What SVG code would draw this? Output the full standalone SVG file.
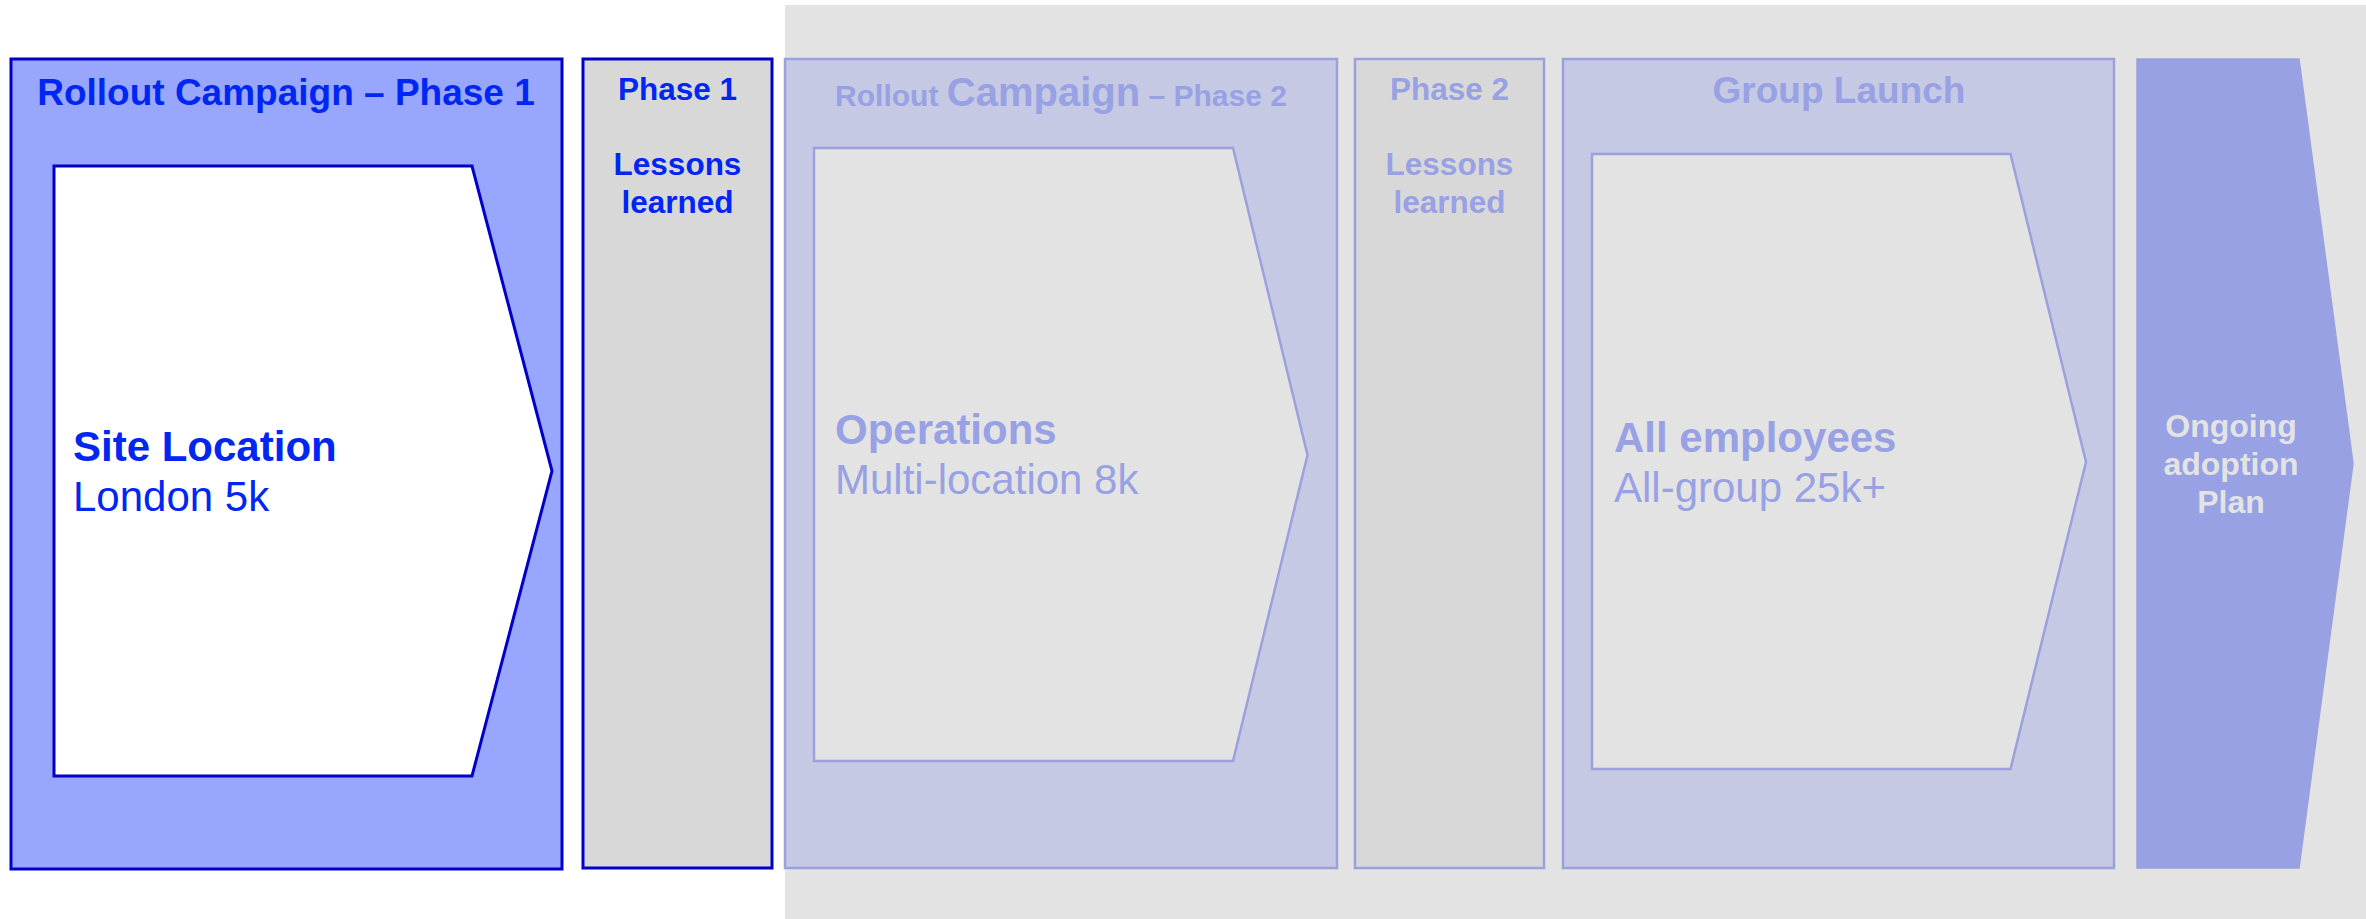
<svg xmlns="http://www.w3.org/2000/svg" width="2366" height="919" viewBox="0 0 2366 919">
<style>
  text { font-family: "Liberation Sans", Arial, sans-serif; }
  .b { font-weight: bold; }
  .active-box { fill: #99a6fe; stroke: #0000c8; stroke-width: 3; }
  .active-lessons { fill: #d8d8d8; stroke: #0000c8; stroke-width: 3; }
  .active-inner { fill: #ffffff; stroke: #0000c8; stroke-width: 3; }
  .active-text { fill: #0026f2; }
  .dim-box { fill: #c5c9e3; stroke: #9aa1dc; stroke-width: 2.5; }
  .dim-lessons { fill: #d8d8d8; stroke: #9aa1dc; stroke-width: 2.5; }
  .dim-inner { fill: #e3e3e3; stroke: #9aa1dc; stroke-width: 2.5; }
  .dim-text { fill: #98a1e3; }
  .ongoing { fill: #97a1e3; stroke: #9aa1dc; stroke-width: 1.5; }
  .ongoing-text { fill: #e3e3e3; }
</style>
<rect x="0" y="0" width="2366" height="919" fill="#ffffff"/>
<rect id="future-background" x="785" y="5" width="1581" height="914" fill="#e3e3e3"/>

<g id="rollout-phase1">
  <rect class="active-box" x="11" y="59" width="551" height="810"/>
  <text class="b active-text" x="286" y="105" font-size="37" text-anchor="middle">Rollout Campaign – Phase 1</text>
  <polygon class="active-inner" points="54,166 472,166 552,471 472,776 54,776"/>
  <text class="b active-text" x="73" y="461" font-size="42">Site Location</text>
  <text class="active-text" x="73" y="511" font-size="42">London 5k</text>
</g>

<g id="phase1-lessons">
  <rect class="active-lessons" x="583" y="59" width="189" height="809"/>
  <text class="b active-text" x="677.5" y="100" font-size="31.5" text-anchor="middle">Phase 1</text>
  <text class="b active-text" x="677.5" y="175" font-size="31.5" text-anchor="middle">Lessons</text>
  <text class="b active-text" x="677.5" y="213" font-size="31.5" text-anchor="middle">learned</text>
</g>

<g id="rollout-phase2">
  <rect class="dim-box" x="785" y="59" width="552" height="809"/>
  <text class="b dim-text" x="1061" y="106" text-anchor="middle"><tspan font-size="30">Rollout </tspan><tspan font-size="40">Campaign</tspan><tspan font-size="30"> – Phase 2</tspan></text>
  <polygon class="dim-inner" points="814,148 1233,148 1307.5,455 1233,761 814,761"/>
  <text class="b dim-text" x="835" y="444" font-size="42">Operations</text>
  <text class="dim-text" x="835" y="494" font-size="42">Multi-location 8k</text>
</g>

<g id="phase2-lessons">
  <rect class="dim-lessons" x="1355" y="59" width="189" height="809"/>
  <text class="b dim-text" x="1449.5" y="100" font-size="31.5" text-anchor="middle">Phase 2</text>
  <text class="b dim-text" x="1449.5" y="175" font-size="31.5" text-anchor="middle">Lessons</text>
  <text class="b dim-text" x="1449.5" y="213" font-size="31.5" text-anchor="middle">learned</text>
</g>

<g id="group-launch">
  <rect class="dim-box" x="1563" y="59" width="551" height="809"/>
  <text class="b dim-text" x="1839" y="103" font-size="37" text-anchor="middle">Group Launch</text>
  <polygon class="dim-inner" points="1592,154 2010.5,154 2086,462 2010.5,769 1592,769"/>
  <text class="b dim-text" x="1614" y="452" font-size="42">All employees</text>
  <text class="dim-text" x="1614" y="502" font-size="42">All-group 25k+</text>
</g>

<g id="ongoing-adoption">
  <polygon class="ongoing" points="2137,59 2299,59 2353,463.5 2299,868 2137,868"/>
  <text class="b ongoing-text" x="2231" y="437" font-size="32" text-anchor="middle">Ongoing</text>
  <text class="b ongoing-text" x="2231" y="475" font-size="32" text-anchor="middle">adoption</text>
  <text class="b ongoing-text" x="2231" y="513" font-size="32" text-anchor="middle">Plan</text>
</g>

<g id="connectors"></g>
</svg>
